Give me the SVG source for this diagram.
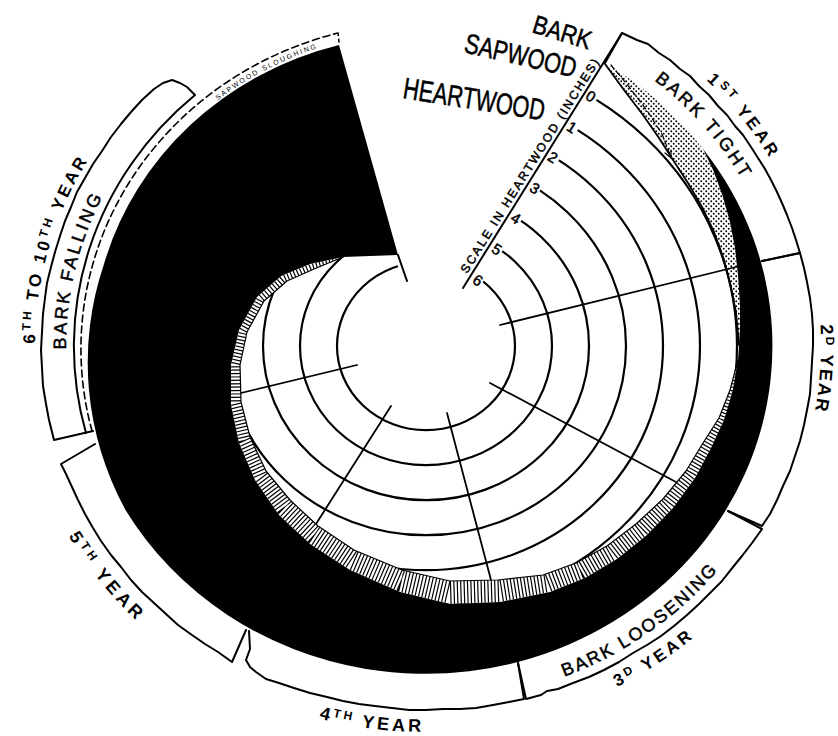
<svg xmlns="http://www.w3.org/2000/svg" width="838" height="736" viewBox="0 0 838 736">
<defs>
<style>
.circ{fill:none;stroke:#000;stroke-width:2.2}
.box{fill:none;stroke:#000;stroke-width:2;stroke-linejoin:round;stroke-linecap:round}
.spoke{fill:none;stroke:#000;stroke-width:1.8;stroke-linecap:round}
.ln{fill:none;stroke:#000;stroke-linejoin:round;stroke-linecap:round}
.lbl{font-family:"Liberation Sans",Arial,sans-serif;fill:#000}
.thick{stroke:#000;stroke-width:0.5}
.yr{font-weight:bold}
</style>
<pattern id="dots" width="5" height="5" patternUnits="userSpaceOnUse"><circle cx="1.25" cy="1.25" r="0.95"/><circle cx="3.75" cy="3.75" r="0.95"/></pattern>
<clipPath id="hw"><path d="M443,346 L791,-212 L1500,-212 L1500,1300 L-700,1300 L-700,-300 L330,-100 L335,45 L394,255 L403,281 L426,346 Z"/></clipPath>
<clipPath id="bandclip"><path d="M738,360 L733,390 L724,420 L711,448 L695,478 L673,508 L647,535 L617,559 L585,578 L550,592 L500,602 L450,604 L400,592 L350,570 L310,544 L279,515 L255,480 L239,443 L231,405 L231,365 L239,330 L257,297 L281,276 L310,264 L343,257 L314,269 L287,281 L264,301 L247,332 L240,365 L241,402 L250,437 L266,471 L290,500 L318,526 L354,550 L402,570 L450,581 L498,580 L543,575 L576,563 L607,546 L636,524 L663,499 L686,471 L703,443 L719,418 L730,390 Z"/></clipPath>
<path id="p1" d="M653.7,38.3 A397,375.6 0 0 1 799.1,217.6"/>
<path id="p2" d="M607,49.4 A362,342.5 0 0 1 766.2,228.9"/>
<path id="p3" d="M797.2,218.2 A395,373.7 0 0 1 779.2,513.3"/>
<path id="p4" d="M491.3,696.3 A376,355.7 0 0 0 760.4,508.6"/>
<path id="p5" d="M531.6,718.8 A408,386 0 0 0 756.1,572.9"/>
<path id="p6" d="M234.4,686.8 A408,386 0 0 0 510.8,723.5"/>
<path id="p7" d="M33.9,459.4 A410,387.9 0 0 0 202.7,671.3"/>
<path id="p8" d="M48.3,441.8 A391,369.9 0 0 1 149.5,84.4"/>
<path id="p9" d="M87.7,462.5 A360,340.6 0 0 1 171.4,105.2"/>
<path id="p10" d="M194.7,119.4 A333,315 0 0 1 345.4,40.3"/>
</defs>
<rect width="838" height="736" fill="#fff"/>

<g id="heartwood-rings" class="circ" clip-path="url(#hw)">
<ellipse cx="426" cy="346" rx="89" ry="84.2"/>
<ellipse cx="426" cy="346" rx="126" ry="119.2"/>
<ellipse cx="426" cy="346" rx="163" ry="154.2"/>
<ellipse cx="426" cy="346" rx="200" ry="189.2"/>
<ellipse cx="426" cy="346" rx="237" ry="224.2"/>
<ellipse cx="426" cy="346" rx="274" ry="259.2"/>
<ellipse cx="426" cy="346" rx="311" ry="294.2"/>
</g>

<g id="connectors" class="spoke">
<path d="M500,325 L740,266"/>
<path d="M490,383 L676,482"/>
<path d="M447,413 L491,580"/>
<path d="M391,406 L316,524"/>
<path d="M357,365 L241,393"/>
</g>

<g id="sapwood-hatched">
<path fill="#fff" d="M738,360 L733,390 L724,420 L711,448 L695,478 L673,508 L647,535 L617,559 L585,578 L550,592 L500,602 L450,604 L400,592 L350,570 L310,544 L279,515 L255,480 L239,443 L231,405 L231,365 L239,330 L257,297 L281,276 L310,264 L343,257 L314,269 L287,281 L264,301 L247,332 L240,365 L241,402 L250,437 L266,471 L290,500 L318,526 L354,550 L402,570 L450,581 L498,580 L543,575 L576,563 L607,546 L636,524 L663,499 L686,471 L703,443 L719,418 L730,390 Z"/>
<path clip-path="url(#bandclip)" fill="none" stroke="#000" stroke-width="30" stroke-dasharray="1.2 2.2" d="M738,360 L731.5,390 L721.5,419 L707,445.5 L690.5,474.5 L668,503.5 L641.5,529.5 L612,552.5 L580.5,570.5 L546.5,583.5 L499,591 L450,592.5 L401,581 L352,560 L314,535 L284.5,507.5 L260.5,475.5 L244.5,440 L236,403.5 L235.5,365 L243,331 L260.5,299 L284,278.5 L312,266.5 L343,257"/>
<path class="ln" stroke-width="1.2" d="M738,360 L730,390 L719,418 L703,443 L686,471 L663,499 L636,524 L607,546 L576,563 L543,575 L498,580 L450,581 L402,570 L354,550 L318,526 L290,500 L266,471 L250,437 L241,402 L240,365 L247,332 L264,301 L287,281 L314,269 L343,257"/>
</g>

<g id="sapwood-dotted">
<path fill="url(#dots)" d="M605,63 A349,330 0 0 1 703,149 L714,172 L723,197 L730,222 L735,248 L738,275 L740,305 L740,330 L739,345 L736,312 L730,283 L723,257 L714,232 L702,207 L688,183 L673,160 L659,138 L643,115 L624,90 Z"/>
<path class="ln" stroke-width="1.8" d="M605,64 L624,90 L643,115 L659,138 L673,160 L688,183 L702,207 L714,232 L723,257 L730,283 L736,312 L739,345"/>
<path class="ln" stroke-width="1.2" stroke-dasharray="5 3.5" d="M611,65 L630,88 L648,112 L662,134 L671,157"/>
<path class="ln" stroke-width="1.2" d="M665,153 L671,158 L671,150"/>
</g>

<g id="year-1" class="box"><path d="M605,63 L622,33 L637,40 L648,44 L659,53 L670,60 L680,69 L690,76 L699,86 L709,95 L718,106 L727,115 L735,126 L743,135 L751,147 L758,158 L765,169 L771,180 L777,192 L782,203 L787,215 L792,228 L796,240 L800,253 L762,261"/></g>
<g id="year-2" class="box"><path d="M762,261 L800,253 L804,268 L807,282 L810,298 L812,314 L813,330 L813,346 L812,362 L811,378 L810,394 L807,410 L804,425 L800,441 L795,456 L790,471 L783,486 L777,500 L770,514 L762,526 L728,511"/></g>
<g id="year-3" class="box"><path d="M728,511 L762,529 L752,543 L742,556 L733,567 L722,581 L711,592 L699,604 L687,615 L674,626 L661,636 L647,645 L633,653 L619,662 L604,670 L589,677 L573,683 L558,689 L547,691 L541,695 L526,699 L518,663"/></g>
<g id="year-4" class="box"><path d="M518,663 L524,699 L509,702 L493,705 L476,708 L460,709 L443,709 L426,710 L409,710 L392,708 L375,706 L359,704 L343,701 L327,697 L310,693 L294,688 L279,683 L266,679 L256,672 L250,667 L246,660 L250,649 L249,631"/></g>
<g id="year-5" class="box"><path d="M246,630 L232,662 L218,652 L205,644 L192,635 L178,625 L166,614 L154,603 L142,592 L131,580 L121,567 L111,555 L101,541 L93,528 L85,514 L78,500 L72,487 L66,474 L61,464 L95,444"/></g>
<g id="year-6-10" class="box"><path d="M93,431 L54,440 L49,420 L46,404 L43,386 L42,368 L41,350 L42,332 L43,314 L45,298 L47,283 L51,267 L55,252 L60,236 L65,221 L71,207 L77,192 L85,178 L93,164 L102,151 L111,137 L121,124 L131,112 L142,100 L154,89 L163,83 L172,80 L180,83 L187,87 L195,95 A352,333 0 0 0 86,433"/></g>

<g id="lost-wood">
<path fill="#000" d="M703,149 A347,328 0 0 1 366,669 A347,328 0 0 1 125.5,510 A340,322 0 0 1 104,264 A331,313 0 0 1 339,45 L398,255 L343,257 L310,264 L281,276 L257,297 L239,330 L231,365 L231,405 L239,443 L255,480 L279,515 L310,544 L350,570 L400,592 L450,604 L500,602 L550,592 L585,578 L617,559 L647,535 L673,508 L695,478 L711,448 L724,420 L733,390 L738,360 L740,330 L740,305 L738,275 L735,248 L730,222 L723,197 L714,172 Z"/>
<path class="ln" stroke-width="2" d="M398,255 L407,281"/>
</g>

<g id="sapwood-sloughing">
<path class="ln" stroke-width="1.6" stroke-dasharray="7 4" stroke-linecap="butt" d="M92,431 A346,327 0 0 1 338,33 L339,42"/>
<text class="lbl" font-size="7"><textPath href="#p10" startOffset="50%" text-anchor="middle" textLength="112">SAPWOOD SLOUGHING</textPath></text>
</g>

<g id="scale">
<path class="ln" stroke-width="2" d="M463,288 L622,33"/>
<text class="lbl thick" font-size="12" stroke-width="0.3" transform="translate(467,274) rotate(-58)" textLength="250">SCALE IN HEARTWOOD (INCHES)</text>
<g class="lbl thick" font-size="15" stroke-width="0.4" text-anchor="middle" dominant-baseline="central">
<text transform="translate(591,96) rotate(32)">0</text>
<text transform="translate(572,127) rotate(32)">1</text>
<text transform="translate(553,157) rotate(32)">2</text>
<text transform="translate(535,188) rotate(32)">3</text>
<text transform="translate(516,218) rotate(32)">4</text>
<text transform="translate(497,249) rotate(32)">5</text>
<text transform="translate(478,280) rotate(32)">6</text>
</g>
</g>

<g id="legend" class="lbl thick">
<text transform="translate(531,32) rotate(17)" font-size="26" textLength="60" lengthAdjust="spacingAndGlyphs">BARK</text>
<text transform="translate(463,52) rotate(13)" font-size="28" textLength="114" lengthAdjust="spacingAndGlyphs">SAPWOOD</text>
<text transform="translate(402,98) rotate(9)" font-size="30" textLength="143" lengthAdjust="spacingAndGlyphs">HEARTWOOD</text>
</g>

<g id="year-labels" class="lbl">
<text class="yr" font-size="17" text-anchor="middle"><textPath href="#p1" startOffset="50%" textLength="100">1<tspan font-size="12" dy="-5">ST</tspan><tspan dy="5"> YEAR</tspan></textPath></text>
<text class="thick" stroke-width="0.4" font-size="18" text-anchor="middle"><textPath href="#p2" startOffset="50%" textLength="132">BARK TIGHT</textPath></text>
<text class="yr" font-size="18" text-anchor="middle"><textPath href="#p3" startOffset="50%" textLength="86">2<tspan font-size="12" dy="-5">D</tspan><tspan dy="5"> YEAR</tspan></textPath></text>
<text class="thick" stroke-width="0.4" font-size="18" text-anchor="middle"><textPath href="#p4" startOffset="50%" textLength="188">BARK LOOSENING</textPath></text>
<text class="yr" font-size="17" text-anchor="middle"><textPath href="#p5" startOffset="50%" textLength="90">3<tspan font-size="12" dy="-5">D</tspan><tspan dy="5"> YEAR</tspan></textPath></text>
<text class="yr" font-size="18" text-anchor="middle"><textPath href="#p6" startOffset="50%" textLength="103">4<tspan font-size="12" dy="-5">TH</tspan><tspan dy="5"> YEAR</tspan></textPath></text>
<text class="yr" font-size="18" text-anchor="middle"><textPath href="#p7" startOffset="50%" textLength="108">5<tspan font-size="12" dy="-5">TH</tspan><tspan dy="5"> YEAR</tspan></textPath></text>
<text class="yr" font-size="17" text-anchor="middle"><textPath href="#p8" startOffset="50%" textLength="192">6<tspan font-size="12" dy="-5">TH</tspan><tspan dy="5"> TO 10</tspan><tspan font-size="12" dy="-5">TH</tspan><tspan dy="5"> YEAR</tspan></textPath></text>
<text class="thick" stroke-width="0.4" font-size="18" text-anchor="middle"><textPath href="#p9" startOffset="50%" textLength="158">BARK FALLING</textPath></text>
</g>
</svg>
